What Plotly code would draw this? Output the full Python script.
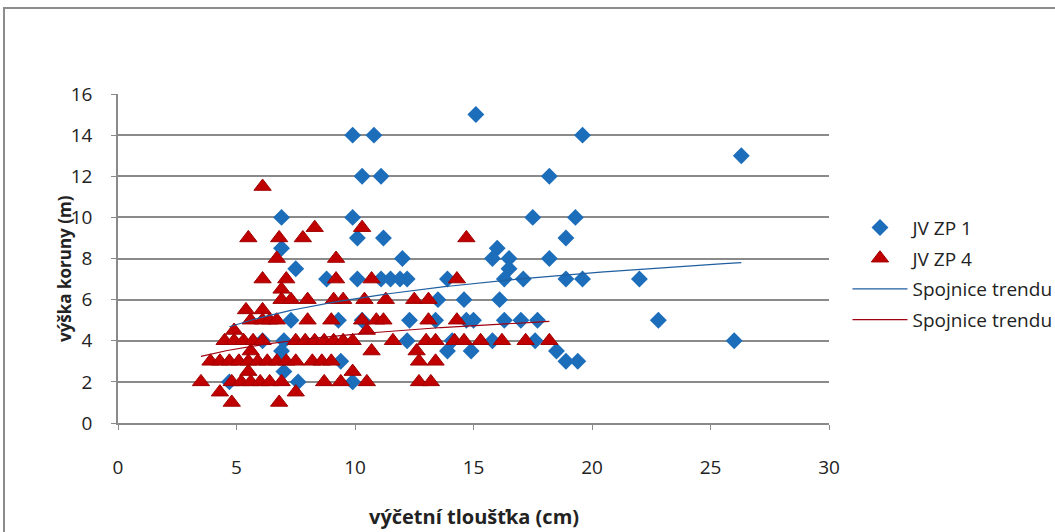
import numpy as np
import plotly.graph_objects as go

# JV ZP 1 (blue diamonds)
zp1_x = [9.9, 10.8, 15.1, 19.6, 26.3,
         10.3, 11.1, 18.2,
         6.9, 9.9, 17.5, 19.3,
         10.1, 11.2, 18.9,
         6.9, 16.0,
         12.0, 15.8, 16.5, 18.2,
         7.5, 16.5,
         8.8, 10.1, 11.1, 11.5, 11.9, 12.2, 13.9, 16.3, 17.1, 18.9, 19.6, 22.0,
         13.5, 14.6, 16.1,
         7.3, 9.3, 10.3, 12.3, 13.4, 14.7, 15.0, 16.3, 17.0, 17.7, 22.8,
         6.1, 7.0, 12.2, 14.1, 15.8, 17.6, 26.0,
         6.9, 13.9, 14.9, 18.5,
         9.4, 18.9, 19.4,
         7.0,
         4.7, 7.6, 9.9]
zp1_y = [14, 14, 15, 14, 13,
         12, 12, 12,
         10, 10, 10, 10,
         9, 9, 9,
         8.5, 8.5,
         8, 8, 8, 8,
         7.5, 7.5,
         7, 7, 7, 7, 7, 7, 7, 7, 7, 7, 7, 7,
         6, 6, 6,
         5, 5, 5, 5, 5, 5, 5, 5, 5, 5, 5,
         4, 4, 4, 4, 4, 4, 4,
         3.5, 3.5, 3.5, 3.5,
         3, 3, 3,
         2.5,
         2, 2, 2]

# JV ZP 4 (red triangles)
zp4_x = [6.1,
         5.5, 6.8, 7.8, 8.3, 10.3, 14.7,
         6.7, 9.2,
         6.1, 7.1, 9.2, 10.7, 14.3,
         6.9,
         6.9, 7.3, 8.0, 9.1, 9.5, 10.4, 11.3, 12.5, 13.1,
         5.4, 6.1,
         5.6, 6.1, 6.4, 6.7, 8.0, 9.0, 10.3, 10.9, 11.2, 13.1, 14.3,
         4.9, 10.5,
         4.5, 4.9, 5.3, 5.7, 6.1, 7.5, 7.9, 8.3, 8.7, 9.1, 9.5, 9.9, 11.6,
         13.0, 13.4, 14.2, 14.6, 15.3, 16.2, 17.2, 18.2,
         5.6, 10.7, 12.6,
         3.9, 4.3, 4.7, 5.1, 5.5, 5.9, 6.3, 6.7, 7.1, 7.5, 8.2, 8.6, 9.0, 12.7, 13.4,
         5.5, 9.9,
         3.5, 4.8, 5.2, 5.6, 6.0, 6.4, 6.9, 8.7, 9.4, 10.5, 12.7, 13.2,
         4.3, 7.5,
         4.8, 6.8]
zp4_y = [11.5,
         9, 9, 9, 9.5, 9.5, 9,
         8, 8,
         7, 7, 7, 7, 7,
         6.5,
         6, 6, 6, 6, 6, 6, 6, 6, 6,
         5.5, 5.5,
         5, 5, 5, 5, 5, 5, 5, 5, 5, 5, 5,
         4.5, 4.5,
         4, 4, 4, 4, 4, 4, 4, 4, 4, 4, 4, 4, 4,
         4, 4, 4, 4, 4, 4, 4, 4,
         3.5, 3.5, 3.5,
         3, 3, 3, 3, 3, 3, 3, 3, 3, 3, 3, 3, 3, 3, 3,
         2.5, 2.5,
         2, 2, 2, 2, 2, 2, 2, 2, 2, 2, 2, 2,
         1.5, 1.5,
         1, 1]

# logarithmic trendline coefficients (y = a*ln(x) + b)
trend_zp1 = (1.81, 1.88)
trend_zp4 = (1.03, 1.95)

x_ticks = [0, 5, 10, 15, 20, 25, 30]
y_ticks = [0, 2, 4, 6, 8, 10, 12, 14, 16]

series_names = ["JV ZP 1", "JV ZP 4", "Spojnice trendu", "Spojnice trendu"]


def log_trend(xs, coef):
    a, b = coef
    tx = np.linspace(min(xs), max(xs), 120)
    return tx, a * np.log(tx) + b


t1x, t1y = log_trend(zp1_x, trend_zp1)
t4x, t4y = log_trend(zp4_x, trend_zp4)

BLUE = "#1C6DBA"
RED = "#C00000"
FONT = "'Open Sans', Lato, sans-serif"

fig = go.Figure()
fig.add_trace(go.Scatter(x=zp1_x, y=zp1_y, mode="markers", name=series_names[0],
                         legendgroup="a",
                         marker=dict(symbol="diamond", size=13, color=BLUE,
                                     line=dict(width=0))))
fig.add_trace(go.Scatter(x=zp4_x, y=zp4_y, mode="markers", name=series_names[1],
                         legendgroup="b",
                         marker=dict(symbol="triangle-up", size=15, color=RED,
                                     line=dict(width=1, color="#A00000"))))
fig.add_trace(go.Scatter(x=t1x, y=t1y, mode="lines", name=series_names[2],
                         legendgroup="c",
                         line=dict(color="#1F5FA0", width=1.2)))
fig.add_trace(go.Scatter(x=t4x, y=t4y, mode="lines", name=series_names[3],
                         legendgroup="d",
                         line=dict(color="#A00010", width=1.2)))

axis_common = dict(showline=True, linecolor="#8a8a8a", linewidth=1.5,
                   ticks="outside", ticklen=5, tickcolor="#8a8a8a",
                   tickfont=dict(family=FONT, size=19, color="#222"),
                   zeroline=False)

fig.update_xaxes(range=[0, 30], tickvals=x_ticks, showgrid=False,
                 ticklabelstandoff=21, **axis_common)
fig.update_yaxes(range=[0, 16], tickvals=y_ticks, showgrid=True,
                 gridcolor="#8a8a8a", gridwidth=1.5,
                 ticklabelstandoff=15, **axis_common)

fig.update_layout(
    width=1055, height=532,
    margin=dict(l=118, r=226, t=94, b=109, autoexpand=False),
    paper_bgcolor="white", plot_bgcolor="white",
    showlegend=True,
    legend=dict(x=1.026, y=0.454, xanchor="left", yanchor="middle",
                font=dict(family=FONT, size=19, color="#222"),
                itemwidth=55, tracegroupgap=3, traceorder="grouped",
                bgcolor="rgba(0,0,0,0)"),
    annotations=[
        dict(text="<b>výška koruny (m)</b>", xref="paper", yref="paper",
             x=-0.075, y=0.47, xanchor="center", yanchor="middle",
             textangle=-90, showarrow=False,
             font=dict(family=FONT, size=17, color="#222")),
        dict(text="<b>výčetní tloušťka (cm)</b>", xref="paper", yref="paper",
             x=0.5, y=-0.283, xanchor="center", yanchor="middle",
             showarrow=False,
             font=dict(family=FONT, size=20, color="#222")),
    ],
    shapes=[dict(type="rect", xref="paper", yref="paper",
                 x0=(4 - 118) / 711, x1=(1200 - 118) / 711,
                 y0=(423 - 620) / 329, y1=(423 - 8) / 329,
                 line=dict(color="#8c8c8c", width=2), layer="below")],
)

fig.write_html("out.html")
